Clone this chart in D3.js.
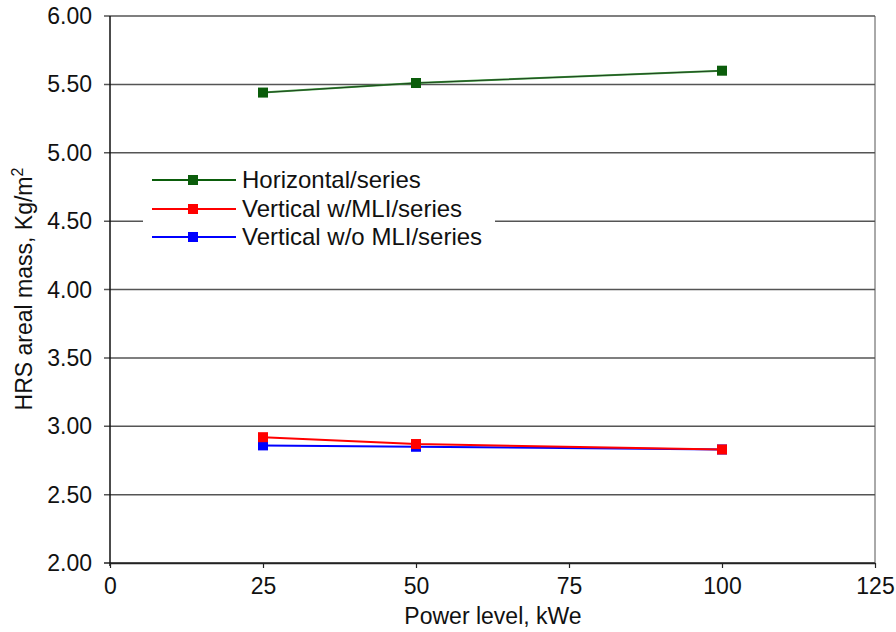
<!DOCTYPE html>
<html>
<head>
<meta charset="utf-8">
<script src="https://d3js.org/d3.v7.min.js"></script>
<style>
  body { margin: 0; background: #fff; }
  svg text { font-family: Arial, "Liberation Sans", sans-serif; fill: #111; }
</style>
</head>
<body>
<svg id="chart" width="896" height="632"></svg>
<script>
const powers = [25, 50, 100];
const seriesNames = ["Horizontal/series", "Vertical w/MLI/series", "Vertical w/o MLI/series"];
const horizontal = [5.44, 5.51, 5.60];
const verticalMLI = [2.92, 2.87, 2.83];
const verticalNoMLI = [2.86, 2.85, 2.83];
const seriesColors = ["#0b5d0b", "#ff0000", "#0000ff"];
const xTicks = [0, 25, 50, 75, 100, 125];
const yTicks = [2.0, 2.5, 3.0, 3.5, 4.0, 4.5, 5.0, 5.5, 6.0];

(function() {
  const svg = d3.select("#chart");
  const pLeft = 110, pRight = 875, pTop = 16, pBottom = 563;

  const x = d3.scaleLinear().domain([0, 125]).range([pLeft, pRight]);
  const y = d3.scaleLinear().domain([2, 6]).range([pBottom, pTop]);

  // gridlines
  svg.append("g").selectAll("line")
    .data(yTicks)
    .join("line")
    .attr("x1", pLeft - 6).attr("x2", pRight)
    .attr("y1", d => y(d)).attr("y2", d => y(d))
    .attr("stroke", d => d === 2 ? "#222" : "#555")
    .attr("stroke-width", 1.5);

  // plot frame
  svg.append("line").attr("x1", pLeft).attr("x2", pLeft).attr("y1", pTop).attr("y2", pBottom + 3)
    .attr("stroke", "#111").attr("stroke-width", 1.5);
  svg.append("line").attr("x1", pRight).attr("x2", pRight).attr("y1", pTop).attr("y2", pBottom)
    .attr("stroke", "#555").attr("stroke-width", 1);

  // x axis
  const xAxis = svg.append("g").attr("transform", `translate(0,${pBottom})`)
    .call(d3.axisBottom(x).tickValues(xTicks).tickSize(5).tickSizeOuter(0).tickPadding(10));
  xAxis.select(".domain").attr("stroke", "#222").attr("stroke-width", 1.5);
  xAxis.selectAll(".tick line").attr("stroke", "#222").attr("stroke-width", 1.2);
  xAxis.selectAll(".tick text")
    .attr("font-size", 23)
    .attr("fill", "#111")
    .style("font-family", "Arial, 'Liberation Sans', sans-serif");

  // y tick labels
  svg.append("g").selectAll("text")
    .data(yTicks)
    .join("text")
    .attr("x", pLeft - 18)
    .attr("y", d => y(d) + 8)
    .attr("text-anchor", "end")
    .attr("font-size", 23)
    .text(d => d3.format(".2f")(d));

  // axis titles
  svg.append("text")
    .attr("x", 493).attr("y", 624)
    .attr("text-anchor", "middle")
    .attr("font-size", 23)
    .text("Power level, kWe");

  const yt = svg.append("text")
    .attr("transform", `translate(32,289) rotate(-90)`)
    .attr("text-anchor", "middle")
    .attr("font-size", 23);
  yt.append("tspan").text("HRS areal mass, Kg/m");
  yt.append("tspan").attr("dy", -9).attr("font-size", 16).text("2");

  // series
  const allSeries = [horizontal, verticalMLI, verticalNoMLI];
  const line = d3.line().x((d, i) => x(powers[i])).y(d => y(d));

  [2, 1, 0].forEach(k => {
    const vals = allSeries[k];
    const g = svg.append("g");
    g.append("path")
      .datum(vals)
      .attr("d", line)
      .attr("fill", "none")
      .attr("stroke", k === 0 ? "#3a9a3a" : seriesColors[k])
      .attr("stroke-width", 2);
    if (k === 0) {
      g.append("path").datum(vals).attr("d", line)
        .attr("fill", "none").attr("stroke", "#1e3a1e").attr("stroke-width", 0.9);
    }
    g.selectAll("rect")
      .data(vals)
      .join("rect")
      .attr("x", (d, i) => x(powers[i]) - 5)
      .attr("y", d => y(d) - 5)
      .attr("width", 10).attr("height", 10)
      .attr("fill", seriesColors[k]);
  });

  // legend
  const legend = svg.append("g");
  legend.append("rect")
    .attr("x", 143).attr("y", 165).attr("width", 352).attr("height", 87)
    .attr("fill", "#fff");
  const rowY = [180, 209, 237];
  seriesNames.forEach((name, i) => {
    legend.append("line")
      .attr("x1", 152).attr("x2", 236).attr("y1", rowY[i]).attr("y2", rowY[i])
      .attr("stroke", seriesColors[i]).attr("stroke-width", 2);
    legend.append("rect")
      .attr("x", 188).attr("y", rowY[i] - 5).attr("width", 10).attr("height", 10)
      .attr("fill", seriesColors[i]);
    legend.append("text")
      .attr("x", 242).attr("y", rowY[i] + 8)
      .attr("font-size", 24)
      .text(name);
  });
})();
</script>
</body>
</html>
